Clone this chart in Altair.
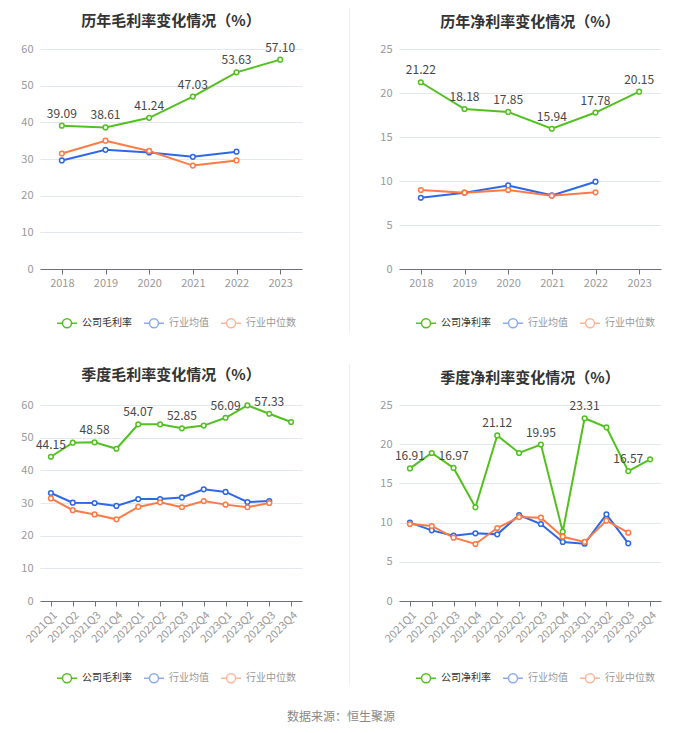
import altair as alt
import pandas as pd

years = ["2018", "2019", "2020", "2021", "2022", "2023"]
gross_company = [39.09, 38.61, 41.24, 47.03, 53.63, 57.10]
gross_ind_mean = [29.6, 32.5, 31.8, 30.6, 32.0, None]
gross_ind_median = [31.5, 35.0, 32.2, 28.2, 29.6, None]

net_company = [21.22, 18.18, 17.85, 15.94, 17.78, 20.15]
net_ind_mean = [8.1, 8.67, 9.5, 8.37, 9.92, None]
net_ind_median = [8.98, 8.67, 8.98, 8.33, 8.71, None]

quarters = ["2021Q1", "2021Q2", "2021Q3", "2021Q4", "2022Q1", "2022Q2",
            "2022Q3", "2022Q4", "2023Q1", "2023Q2", "2023Q3", "2023Q4"]
q_gross_company = [44.15, 48.47, 48.58, 46.6, 54.07, 54.08, 52.85, 53.7, 56.09, 59.9, 57.33, 54.8]
q_gross_mean = [33.06, 30.1, 30.0, 29.1, 31.2, 31.2, 31.7, 34.2, 33.4, 30.3, 30.6, None]
q_gross_median = [31.4, 27.8, 26.5, 25.0, 28.8, 30.2, 28.7, 30.6, 29.5, 28.7, 30.0, None]

q_net_company = [16.91, 18.88, 16.97, 11.95, 21.12, 18.88, 19.95, 8.84, 23.31, 22.15, 16.57, 18.07]
q_net_mean = [9.99, 9.01, 8.33, 8.63, 8.5, 10.97, 9.82, 7.53, 7.31, 11.05, 7.36, None]
q_net_median = [9.82, 9.57, 8.08, 7.27, 9.31, 10.71, 10.63, 8.2, 7.53, 10.25, 8.72, None]

labeled_quarters = ["2021Q1", "2021Q3", "2022Q1", "2022Q3", "2023Q1", "2023Q3"]

COLORS = ["#52c11f", "#2e68e6", "#ff7a45"]
FONT = "Noto Sans CJK SC"
LEGEND_SYMBOL = ("M-1,0 L-0.45,0 M0.45,0 L1,0 "
                 "M-0.45,0 A0.45,0.45 0 1,1 0.45,0 A0.45,0.45 0 1,1 -0.45,0 Z")


def panel(title, cats, comp_name, comp, mean, median, ymax, ystep, height,
          labeled, rotate, legend_gap):
    rows = []
    for c, a, b, m in zip(cats, comp, mean, median):
        rows.append({"cat": c, "series": comp_name, "value": a, "label": c in labeled})
        if b is not None:
            rows.append({"cat": c, "series": "行业均值", "value": b, "label": False})
        if m is not None:
            rows.append({"cat": c, "series": "行业中位数", "value": m, "label": False})
    df = pd.DataFrame(rows)
    domain = [comp_name, "行业均值", "行业中位数"]

    color = alt.Color(
        "series:N",
        scale=alt.Scale(domain=domain, range=COLORS),
        sort=domain,
        title=None,
        legend=alt.Legend(
            orient="none", direction="horizontal", legendX=16, legendY=height + legend_gap,
            symbolType=LEGEND_SYMBOL, symbolSize=400, symbolStrokeWidth=1.5,
            symbolFillColor="white",
            symbolOpacity={"expr": f"datum.value == '{comp_name}' ? 1 : 0.55"},
            labelColor={"expr": f"datum.value == '{comp_name}' ? '#333333' : '#999999'"},
            labelFontSize=10, labelFont=FONT, labelOffset=4, columnPadding=9,
            padding=0,
        ),
    )
    xaxis = alt.Axis(
        labelAngle=-45 if rotate else 0,
        labelAlign="right" if rotate else "center",
        labelBaseline="top",
        labelColor="#999999", labelFontSize=11, labelFont=FONT,
        domainColor="#6e7079", tickColor="#6e7079", tickSize=5,
        labelPadding=3, grid=False, title=None,
    )
    yaxis = alt.Axis(
        values=list(range(0, ymax + 1, ystep)),
        labelColor="#999999", labelFontSize=11, labelFont=FONT,
        domain=False, ticks=False, tickSize=0, labelPadding=7,
        gridColor="#e3e7f1", gridWidth=1, title=None,
    )
    x = alt.X("cat:O", sort=cats, scale=alt.Scale(padding=0.5), axis=xaxis)
    y = alt.Y("value:Q", scale=alt.Scale(domain=[0, ymax]), axis=yaxis)

    base = alt.Chart(df).encode(x=x, y=y, color=color, detail="series:N")
    lines = base.mark_line(strokeWidth=2)
    pts = base.mark_point(shape="circle", filled=False, fill="white", size=22,
                          strokeWidth=1.5, opacity=1)
    text = alt.Chart(df).transform_filter(
        f"datum.label && datum.series == '{comp_name}'"
    ).mark_text(dy=-12, fontSize=12, font=FONT, color="#464646").encode(
        x=alt.X("cat:O", sort=cats, scale=alt.Scale(padding=0.5), axis=xaxis),
        y=alt.Y("value:Q", scale=alt.Scale(domain=[0, ymax]), axis=yaxis),
        text=alt.Text("value:Q", format=".2f"),
    )
    return alt.layer(lines, pts, text).properties(
        width=262, height=height,
        title=alt.TitleParams(title, fontSize=15, fontWeight="bold", color="#333333",
                              font=FONT, anchor="middle", offset=13),
    )


def separator(height, bottom):
    return alt.Chart(pd.DataFrame({"k": [0]})).mark_rect(
        color="#eeeeee"
    ).encode(
        x=alt.value(37), x2=alt.value(38), y=alt.value(-41), y2=alt.value(bottom)
    ).properties(width=57, height=height)


p1 = panel("历年毛利率变化情况（%）", years, "公司毛利率", gross_company,
           gross_ind_mean, gross_ind_median, 60, 10, 220, years, False, 43)
p2 = panel("历年净利率变化情况（%）", years, "公司净利率", net_company,
           net_ind_mean, net_ind_median, 25, 5, 220, years, False, 43)
p3 = panel("季度毛利率变化情况（%）", quarters, "公司毛利率", q_gross_company,
           q_gross_mean, q_gross_median, 60, 10, 196, labeled_quarters, True, 66)
p4 = panel("季度净利率变化情况（%）", quarters, "公司净利率", q_net_company,
           q_net_mean, q_net_median, 25, 5, 196, labeled_quarters, True, 66)

top = alt.hconcat(p1, separator(220, 284), p2, spacing=10).resolve_scale(
    color="independent", x="independent", y="independent")
bottom = alt.hconcat(p3, separator(196, 280), p4, spacing=10).resolve_scale(
    color="independent", x="independent", y="independent")

chart = alt.vconcat(top, bottom, spacing=31).resolve_scale(
    color="independent", x="independent", y="independent"
).properties(
    title=alt.TitleParams("数据来源：恒生聚源", orient="bottom", fontSize=12,
                          fontWeight="normal", color="#888888", font=FONT,
                          anchor="middle", offset=26),
    padding={"left": 12, "top": 0, "right": 5, "bottom": 5},
    background="white",
).configure_view(strokeWidth=0, stroke="transparent")

chart.save("out.html", embed_options={"renderer": "svg", "actions": False})
